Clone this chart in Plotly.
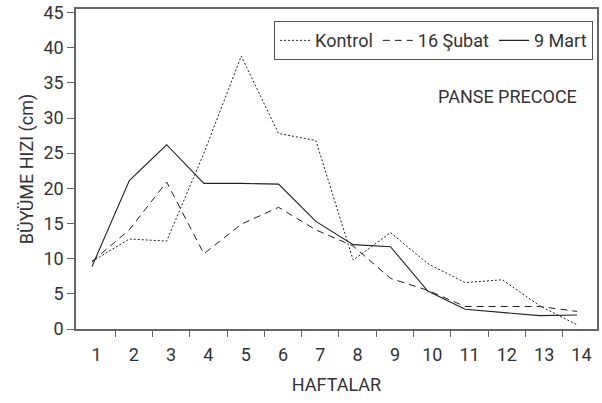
import plotly.graph_objects as go

weeks = list(range(1, 15))
kontrol = [9.6, 12.8, 12.5, 25.0, 38.8, 27.8, 26.8, 9.8, 13.7, 9.3, 6.6, 7.0, 3.3, 0.6]
subat16 = [9.6, 14.1, 20.9, 10.7, 14.9, 17.3, 14.1, 11.8, 7.2, 5.5, 3.2, 3.2, 3.2, 2.5]
mart9 = [8.9, 21.1, 26.2, 20.7, 20.7, 20.6, 15.3, 12.0, 11.7, 5.4, 2.8, 2.3, 1.9, 2.0]
series_names = ["Kontrol", "16 Şubat", "9 Mart"]
x_labels = [str(w) for w in weeks]
y_ticks = list(range(0, 50, 5))

FONT = "Roboto"
TXT = "#333333"
LINE = "#222222"
AX = "#666666"

fig = go.Figure()
fig.add_trace(go.Scatter(x=weeks, y=kontrol, mode="lines", name=series_names[0],
                         line=dict(color=LINE, width=1, dash="2px,2px")))
fig.add_trace(go.Scatter(x=weeks, y=subat16, mode="lines", name=series_names[1],
                         line=dict(color=LINE, width=1, dash="7px,5px")))
fig.add_trace(go.Scatter(x=weeks, y=mart9, mode="lines", name=series_names[2],
                         line=dict(color=LINE, width=1.1)))

off = 0.12
fig.update_layout(
    width=602, height=403,
    margin=dict(l=76, r=5, t=9, b=74),
    paper_bgcolor="white", plot_bgcolor="white",
    font=dict(family=FONT, size=18, color=TXT),
    showlegend=True,
    legend=dict(orientation="h", x=0.9925, y=0.962, xanchor="right", yanchor="top",
                bordercolor="#555555", borderwidth=1, bgcolor="white",
                font=dict(family=FONT, size=18, color=TXT),
                itemwidth=30, tracegroupgap=0,
                ),
    xaxis=dict(
        range=[0.571, 14.536],
        automargin=False,
        tickmode="array",
        tickvals=[w + off for w in weeks],
        ticktext=x_labels,
        ticks="",
        ticklabelstandoff=9,
        ticklabeloverflow="allow",
        showgrid=False, zeroline=False,
        showline=True, linecolor=AX, linewidth=1.5, mirror=True,
        tickfont=dict(family=FONT, size=18, color=TXT),
        minor=dict(tickmode="array", tickvals=[w + 0.5 + off for w in weeks[:-1]],
                   ticks="outside", ticklen=6, tickcolor=AX, tickwidth=1.2, showgrid=False),
        title=dict(text="HAFTALAR", font=dict(family=FONT, size=18, color=TXT), standoff=14),
    ),
    yaxis=dict(
        range=[0, 45.5],
        automargin=False,
        tickmode="array", tickvals=y_ticks,
        ticks="outside", ticklen=7, tickcolor=AX, tickwidth=1.2,
        ticklabeloverflow="allow",
        showgrid=False, zeroline=False,
        showline=True, linecolor=AX, linewidth=1.5, mirror=True,
        tickfont=dict(family=FONT, size=18, color=TXT),
        title=dict(text="BÜYÜME HIZI (cm)", font=dict(family=FONT, size=18, color=TXT), standoff=5),
    ),
    annotations=[dict(text="PANSE PRECOCE", xref="paper", yref="paper", x=0.965, y=0.726,
                      xanchor="right", yanchor="middle", showarrow=False,
                      font=dict(family=FONT, size=18, color=TXT))],
)

fig.write_html("out.html", config={"displayModeBar": False},
               post_script="document.body.style.margin='0';")
